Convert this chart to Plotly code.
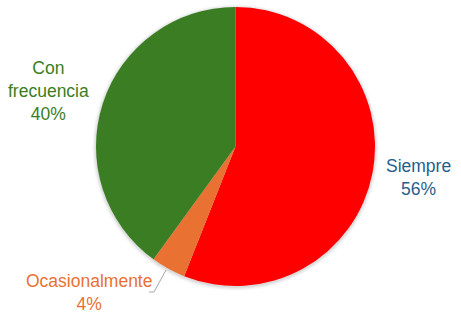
import plotly.graph_objects as go

labels = ["Siempre", "Ocasionalmente", "Con frecuencia"]
values = [56, 4, 40]
slice_colors = ["#FF0000", "#E97132", "#3A7D22"]
label_colors = ["#1F5F8B", "#E97132", "#3A7D22"]

W, H = 461, 322
cx, cy, r = 235.5, 146.5, 139.5

def px(x):
    return x / W

def py(y):
    return 1 - y / H

fig = go.Figure(go.Pie(
    labels=labels, values=values, sort=False, direction="clockwise", rotation=0,
    marker=dict(colors=slice_colors, line=dict(width=0)),
    textinfo="none", hoverinfo="label+percent", showlegend=False,
    domain=dict(x=[px(cx - r), px(cx + r)], y=[py(cy + r), py(cy - r)]),
))

shapes = []
for i, a in enumerate([0.05, 0.04, 0.03, 0.02]):
    d = r + 1 + i
    shapes.append(dict(type="circle", xref="paper", yref="paper", layer="below",
                       x0=px(cx - d), x1=px(cx + d), y0=py(cy + d + 1), y1=py(cy - d + 1),
                       fillcolor=f"rgba(0,0,0,{a})", line=dict(width=0)))
shapes.append(dict(type="path", xref="paper", yref="paper",
                   path=f"M {px(166)} {py(270)} L {px(154)} {py(292)} L {px(149)} {py(292)}",
                   line=dict(color="#A6A6A6", width=1)))

pos = {"Siempre": (418, 177), "Ocasionalmente": (88.5, 292), "Con frecuencia": (48, 91)}
text = {"Siempre": "Siempre", "Ocasionalmente": "Ocasionalmente", "Con frecuencia": "Con<br>frecuencia"}
total = sum(values)
annotations = []
for lab, v, c in zip(labels, values, label_colors):
    x, y = pos[lab]
    annotations.append(dict(x=px(x), y=py(y), xref="paper", yref="paper",
                            text=f"{text[lab]}<br>{round(100*v/total)}%", showarrow=False,
                            xanchor="center", yanchor="middle", align="center",
                            font=dict(family="Liberation Sans, Arial", size=17.5, color=c)))

fig.update_layout(width=W, height=H, margin=dict(l=0, r=0, t=0, b=0),
                  paper_bgcolor="white", plot_bgcolor="white",
                  shapes=shapes, annotations=annotations)
fig.write_html("out.html")
